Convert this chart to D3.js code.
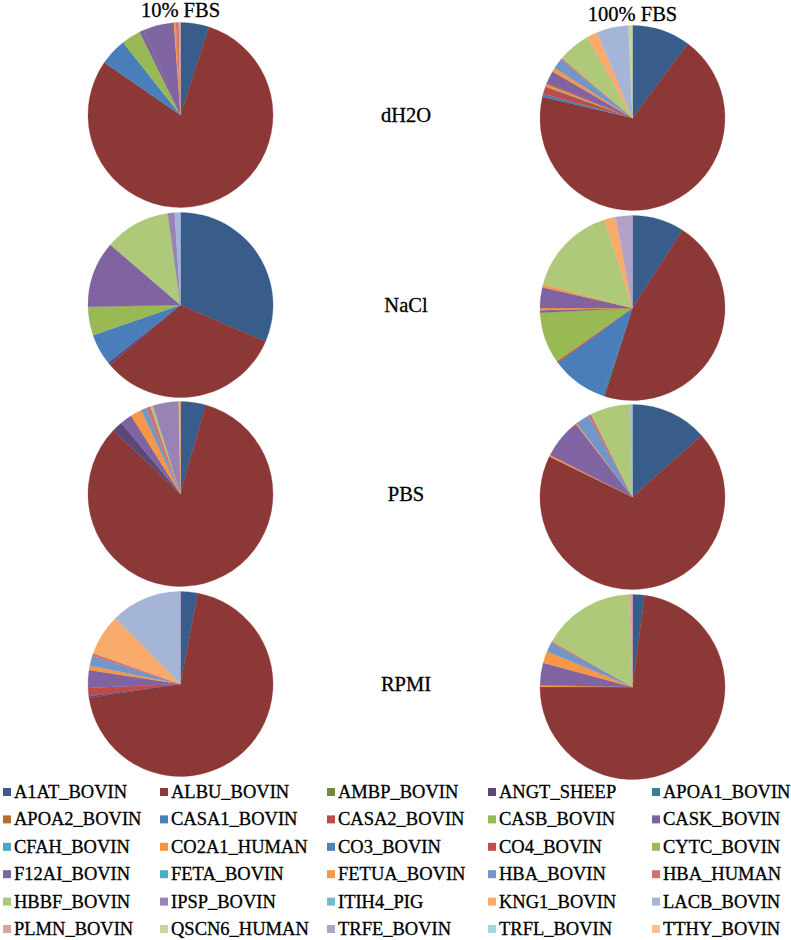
<!DOCTYPE html>
<html>
<head>
<meta charset="utf-8">
<script src="https://cdn.jsdelivr.net/npm/d3@7"></script>
<style>
  html, body { margin: 0; padding: 0; background: #fff; }
  svg { display: block; }
</style>
</head>
<body>
<svg id="chart" width="791" height="940"></svg>
<script>
// ---------- DATA ----------
const proteins = ["A1AT_BOVIN","ALBU_BOVIN","AMBP_BOVIN","ANGT_SHEEP","APOA1_BOVIN",
  "APOA2_BOVIN","CASA1_BOVIN","CASA2_BOVIN","CASB_BOVIN","CASK_BOVIN",
  "CFAH_BOVIN","CO2A1_HUMAN","CO3_BOVIN","CO4_BOVIN","CYTC_BOVIN",
  "F12AI_BOVIN","FETA_BOVIN","FETUA_BOVIN","HBA_BOVIN","HBA_HUMAN",
  "HBBF_BOVIN","IPSP_BOVIN","ITIH4_PIG","KNG1_BOVIN","LACB_BOVIN",
  "PLMN_BOVIN","QSCN6_HUMAN","TRFE_BOVIN","TRFL_BOVIN","TTHY_BOVIN"];

const palette = ["#385D8A","#8C3836","#71893F","#5C4776","#357D91",
  "#B66D31","#4A7EBB","#BE4B48","#98B954","#7D60A0",
  "#46AAC5","#F69240","#4F81BD","#C0504D","#9BBB59",
  "#8064A2","#4BACC6","#F79646","#7296CA","#CD7371",
  "#AFC97A","#9983B5","#6FBDD1","#F9AB6B","#A5B5D8",
  "#DDA3A2","#C3D69B","#B3A2C7","#A5D5E2","#FAC090"];

const columns = ["10% FBS","100% FBS"];
const rowsLabels = ["dH2O","NaCl","PBS","RPMI"];

// values (% of spectra) in legend order
const dH2O_10  = [5.0,79.6,0,0,0,0,4.75,0,3.4,0.7,0,0,0,0,0,5.4,0,0.35,0,0.5,0,0,0,0,0,0.3,0,0,0,0];
const dH2O_100 = [10.2,68.5,0,0,0,0,0.5,1.3,0,0,0.1,0.4,0,0.2,0,2.2,0,0.7,1.8,0.3,5.7,0,0,1.9,5.5,0,0.7,0,0,0];
const NaCl_10  = [31.5,32.3,0,0.5,0,0,5.4,0,5.0,0,0,0,0,0,0,11.6,0,0,0,0,11.5,1.2,0,0,1.0,0,0,0,0,0];
const NaCl_100 = [9.1,45.8,0,0,0.3,0,9.7,0.3,9.0,0.4,0,0.4,0,0,0,3.6,0,0.5,0,0,16.0,0,0,2.0,0,0,0,2.9,0,0];
const PBS_10   = [4.4,82.6,0,1.9,0,0,0,0,0,0,0,0,0,0,0,2.1,0,2.0,0.9,0.8,0.45,4.5,0,0.3,0,0,0,0,0,0];
const PBS_100  = [13.4,68.8,0,0,0,0,0,0,0,0,0,0.3,0,0,0,7.0,0,0.2,2.4,0.5,7.0,0,0,0,0.4,0,0,0,0,0];
const RPMI_10  = [3.0,69.6,0,0.3,0,0,0,1.4,0,0,0,0,0,0,0,3.1,0,0.8,1.7,0.5,0,0,0,7.2,12.3,0,0,0.1,0,0];
const RPMI_100 = [2.1,72.9,0,0,0,0,0,0,0,0,0,0.3,0,0,0,3.9,0,2.1,1.6,0.3,16.2,0,0,0,0,0.6,0,0,0,0];

const pieData = [
  [dH2O_10, dH2O_100],
  [NaCl_10, NaCl_100],
  [PBS_10, PBS_100],
  [RPMI_10, RPMI_100]
];

// ---------- DRAW ----------
const FONT = "'Liberation Serif', 'Times New Roman', 'DejaVu Serif', serif";
const svg = d3.select("#chart");
const color = d3.scaleOrdinal().domain(proteins).range(palette);

const colX = [180.5, 632.5];
const colYOffset = [0, 3];
const rowY = [115, 305, 494, 684];
const radius = 92.5;

const pie = d3.pie().sort(null).value(d => d.v);
const arc = d3.arc().innerRadius(0).outerRadius(radius);

pieData.forEach((row, ri) => {
  row.forEach((vals, ci) => {
    const items = proteins.map((p, i) => ({ name: p, v: vals[i] })).filter(d => d.v > 0);
    const g = svg.append("g")
      .attr("transform", `translate(${colX[ci]},${rowY[ri] + colYOffset[ci]})`);
    g.selectAll("path")
      .data(pie(items))
      .join("path")
      .attr("d", arc)
      .attr("fill", d => color(d.data.name))
      .attr("stroke", d => color(d.data.name))
      .attr("stroke-width", 0.3);
  });
});

function styleText(sel, size) {
  sel.style("font-family", FONT)
    .attr("font-size", size)
    .attr("fill", "#000")
    .attr("stroke", "#000")
    .attr("stroke-width", 0.3);
}

// column titles
svg.selectAll("text.col")
  .data(columns)
  .join("text")
  .attr("class", "col")
  .attr("x", (d, i) => colX[i])
  .attr("y", (d, i) => [17, 21][i])
  .attr("text-anchor", "middle")
  .call(styleText, 20.5)
  .text(d => d);

// row labels
svg.selectAll("text.row")
  .data(rowsLabels)
  .join("text")
  .attr("class", "row")
  .attr("x", 406)
  .attr("y", (d, i) => rowY[i] + 7)
  .attr("text-anchor", "middle")
  .call(styleText, 20.5)
  .text(d => d);

// legend
const legX = [3, 160, 327, 488, 652];
const legY0 = 798, legDy = 27.4;
const leg = svg.append("g").attr("class", "legend");
proteins.forEach((p, i) => {
  const c = i % 5, r = Math.floor(i / 5);
  const x = legX[c], y = legY0 + r * legDy;
  leg.append("rect")
    .attr("x", x).attr("y", y - 10)
    .attr("width", 8).attr("height", 8)
    .attr("fill", color(p));
  leg.append("text")
    .attr("x", x + 11).attr("y", y)
    .call(styleText, 18.5)
    .text(p);
});
</script>
</body>
</html>
